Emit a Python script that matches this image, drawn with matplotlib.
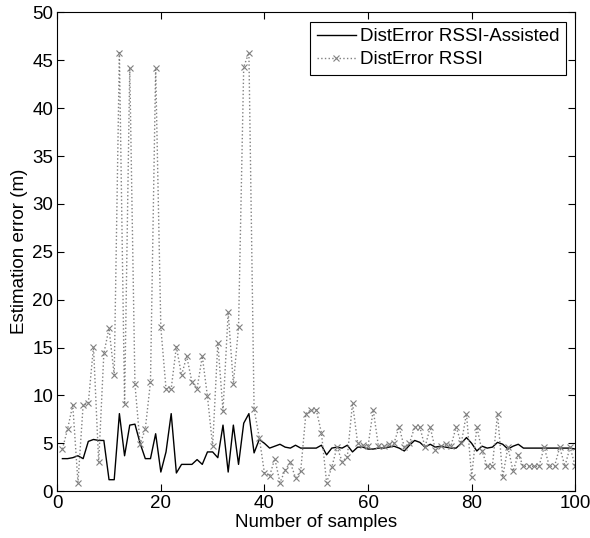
import matplotlib
matplotlib.use("Agg")
import matplotlib.pyplot as plt
import numpy as np

plt.rcParams["font.family"] = ["Liberation Sans", "DejaVu Sans"]

samples = np.arange(1, 101)

# DistError RSSI-Assisted (solid)
err_assisted = [
    3.4, 3.4, 3.5, 3.7, 3.4, 5.2, 5.4, 5.3, 5.3, 1.2,
    1.2, 8.1, 3.7, 6.9, 7.0, 5.0, 3.4, 3.4, 6.0, 2.0,
    4.1, 8.1, 1.9, 2.8, 2.8, 2.8, 3.3, 2.8, 4.1, 4.1,
    3.5, 6.9, 2.0, 6.9, 2.8, 7.1, 8.1, 4.0, 5.4, 5.0,
    4.5, 4.7, 4.9, 4.6, 4.5, 4.8, 4.5, 4.5, 4.5, 4.5,
    4.8, 3.8, 4.5, 4.6, 4.5, 4.8, 4.1, 4.6, 4.6, 4.4,
    4.4, 4.5, 4.5, 4.6, 4.7, 4.5, 4.2, 4.8, 5.3, 5.1,
    4.6, 4.9, 4.6, 4.7, 4.6, 4.5, 4.5, 5.0, 5.6, 5.0,
    4.2, 4.7, 4.5, 4.6, 5.1, 4.9, 4.4, 4.7, 4.9, 4.5,
    4.5, 4.5, 4.5, 4.5, 4.5, 4.5, 4.5, 4.5, 4.5, 4.4,
]

# DistError RSSI (dotted with x markers)
err_rssi = [
    4.4, 6.5, 9.0, 0.9, 9.0, 9.2, 15.1, 3.0, 14.4, 17.0,
    12.1, 45.8, 9.1, 44.2, 11.2, 4.9, 6.5, 11.4, 44.2, 17.1,
    10.7, 10.7, 15.1, 12.1, 14.1, 11.4, 10.7, 14.1, 9.9, 4.7,
    15.5, 8.4, 18.7, 11.2, 17.1, 44.3, 45.8, 8.6, 5.6, 1.9,
    1.6, 3.4, 0.9, 2.2, 3.0, 1.4, 2.1, 8.1, 8.5, 8.5,
    6.1, 0.9, 2.5, 4.6, 3.1, 3.6, 9.2, 5.0, 4.8, 4.7,
    8.5, 4.7, 4.7, 4.9, 5.0, 6.7, 4.6, 5.0, 6.7, 6.7,
    4.6, 6.7, 4.3, 4.7, 4.9, 4.7, 6.7, 5.0, 8.1, 1.5,
    6.7, 4.2, 2.6, 2.6, 8.1, 1.5, 4.6, 2.1, 3.8, 2.6,
    2.6, 2.6, 2.6, 4.6, 2.6, 2.6, 4.6, 2.6, 4.6, 2.6,
]

fig = plt.figure(figsize=(5.9, 5.38), dpi=100)
ax = fig.add_axes([0.097, 0.087, 0.878, 0.890])

ax.plot(samples, err_assisted, color="black", linewidth=1.0,
        label="DistError RSSI-Assisted")
ax.plot(samples, err_rssi, color="#808080", linestyle=":", linewidth=1.0,
        marker="x", markersize=4, markeredgewidth=0.8,
        label="DistError RSSI")

ax.set_xlim(0, 100)
ax.set_ylim(0, 50)
ax.set_xticks(np.arange(0, 101, 20))
ax.set_yticks(np.arange(0, 51, 5))
ax.tick_params(direction="in", top=True, right=True, labelsize=13.5,
               length=5, pad=3)
ax.set_xlabel("Number of samples", fontsize=13.5, labelpad=1)
ax.set_ylabel("Estimation error (m)", fontsize=13.5, labelpad=3)

leg = ax.legend(loc="upper right", fontsize=13.5, fancybox=False,
                framealpha=1, edgecolor="black", borderaxespad=0.5,
                handlelength=2.1, handletextpad=0.2, borderpad=0.35,
                labelspacing=0.3)
leg.get_frame().set_linewidth(0.8)

fig.savefig("out.png", dpi=100)
